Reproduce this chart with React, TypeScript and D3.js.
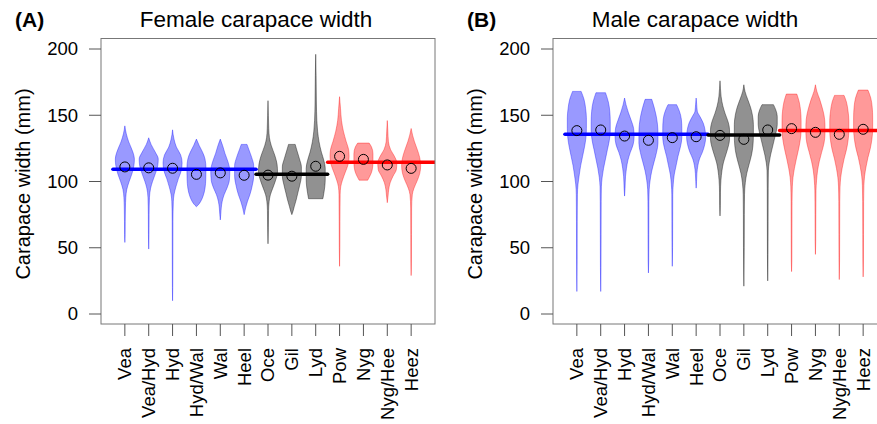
import * as d3 from 'd3'

// Population labels along the x axis
const SITES = ['Vea', 'Vea/Hyd', 'Hyd', 'Hyd/Wal', 'Wal', 'Heel', 'Oce', 'Gil', 'Lyd', 'Pow', 'Nyg', 'Nyg/Hee', 'Heez']
// Region group of each site (0 = blue, 1 = grey, 2 = red)
const SITE_GROUP = [0, 0, 0, 0, 0, 0, 1, 1, 1, 2, 2, 2, 2]
const Y_TICKS = [0, 50, 100, 150, 200]

// Violin outlines: [carapace width (mm), relative half width]
const FEMALE_PROFILES: [number, number][][] = [
  [[142, 0], [136, 0.15], [130, 0.4], [122, 0.85], [117, 1], [112, 0.95], [106, 0.75], [100, 0.45], [94, 0.2], [88, 0.1], [80, 0.06], [70, 0.04], [60, 0.03], [54, 0]],
  [[133, 0], [128, 0.25], [122, 0.7], [117, 1], [112, 0.95], [106, 0.7], [100, 0.4], [95, 0.2], [88, 0.08], [75, 0.04], [60, 0.03], [49, 0]],
  [[139, 0], [132, 0.15], [126, 0.4], [120, 0.85], [114, 1], [108, 0.9], [102, 0.6], [96, 0.35], [90, 0.15], [85, 0.08], [70, 0.04], [40, 0.03], [20, 0.02], [10, 0]],
  [[132, 0], [127, 0.3], [122, 0.65], [117, 0.9], [110, 1], [102, 0.98], [95, 0.9], [89, 0.7], [85, 0.45], [82, 0.15], [81, 0]],
  [[132, 0], [127, 0.25], [121, 0.5], [115, 0.8], [108, 1], [101, 0.95], [95, 0.7], [90, 0.4], [85, 0.2], [80, 0.1], [75, 0.05], [71, 0]],
  [[128, 0.3], [124, 0.5], [118, 0.8], [112, 1], [104, 1], [97, 0.85], [90, 0.6], [85, 0.35], [80, 0.15], [75, 0]],
  [[161, 0], [150, 0.04], [140, 0.08], [133, 0.15], [127, 0.35], [120, 0.7], [113, 0.95], [107, 1], [101, 0.8], [95, 0.5], [90, 0.25], [85, 0.12], [78, 0.06], [65, 0.04], [53, 0]],
  [[128, 0.35], [123, 0.55], [117, 0.8], [111, 1], [104, 1], [98, 0.85], [92, 0.65], [86, 0.45], [81, 0.25], [77, 0.1], [75, 0]],
  [[196, 0], [180, 0.04], [160, 0.07], [146, 0.12], [138, 0.2], [130, 0.35], [122, 0.6], [116, 0.85], [110, 1], [102, 1], [96, 0.95], [91, 0.85], [87, 0.75]],
  [[164, 0], [155, 0.1], [146, 0.2], [138, 0.4], [130, 0.7], [124, 0.95], [119, 1], [113, 0.9], [107, 0.6], [101, 0.3], [96, 0.12], [90, 0.06], [70, 0.04], [50, 0.03], [36, 0]],
  [[129, 0.6], [126, 0.85], [121, 1], [115, 1], [110, 0.95], [106, 0.8], [103, 0.6], [101, 0.45]],
  [[146, 0], [138, 0.06], [130, 0.12], [124, 0.35], [119, 0.75], [114, 1], [109, 0.95], [104, 0.6], [99, 0.3], [94, 0.15], [89, 0.08], [84, 0]],
  [[140, 0], [135, 0.15], [130, 0.35], [124, 0.65], [118, 0.9], [112, 1], [106, 0.9], [100, 0.6], [95, 0.3], [90, 0.12], [80, 0.05], [60, 0.04], [40, 0.03], [29, 0]],
]
const FEMALE_MEDIANS = [111, 110.3, 110, 105.4, 106.5, 104.7, 104.8, 104, 111.5, 119, 116.7, 112.5, 109.9]
const FEMALE_GROUP_MEANS = [109.2, 105.4, 114.5]

const MALE_PROFILES: [number, number][][] = [
  [[168, 0.45], [162, 0.75], [155, 0.92], [148, 1], [140, 1], [133, 0.95], [126, 0.8], [119, 0.6], [112, 0.4], [105, 0.25], [98, 0.12], [90, 0.06], [70, 0.04], [40, 0.03], [17, 0]],
  [[167, 0.5], [160, 0.8], [153, 0.95], [145, 1], [138, 1], [131, 0.9], [124, 0.7], [117, 0.5], [110, 0.3], [103, 0.15], [96, 0.07], [85, 0.05], [60, 0.04], [35, 0.03], [17, 0]],
  [[163, 0], [158, 0.15], [152, 0.4], [146, 0.7], [140, 0.95], [134, 1], [128, 0.9], [122, 0.6], [116, 0.35], [110, 0.2], [104, 0.1], [95, 0.05], [89, 0]],
  [[162, 0.35], [156, 0.6], [150, 0.8], [143, 0.95], [136, 1], [129, 1], [122, 0.85], [115, 0.6], [108, 0.35], [101, 0.18], [94, 0.08], [85, 0.05], [60, 0.04], [40, 0.03], [31, 0]],
  [[158, 0.45], [153, 0.75], [147, 0.95], [140, 1], [133, 1], [126, 0.85], [119, 0.6], [112, 0.4], [105, 0.2], [98, 0.1], [90, 0.05], [70, 0.04], [50, 0.03], [36, 0]],
  [[163, 0], [158, 0.06], [153, 0.12], [149, 0.4], [144, 0.75], [138, 0.95], [133, 1], [128, 0.9], [122, 0.65], [117, 0.35], [112, 0.18], [106, 0.08], [100, 0.04], [95, 0]],
  [[176, 0], [170, 0.05], [164, 0.12], [157, 0.3], [151, 0.55], [145, 0.85], [139, 1], [132, 1], [126, 0.85], [120, 0.6], [114, 0.35], [108, 0.2], [101, 0.1], [92, 0.05], [82, 0.04], [74, 0]],
  [[173, 0], [168, 0.12], [162, 0.4], [156, 0.7], [150, 0.9], [143, 1], [135, 1], [127, 0.95], [120, 0.8], [113, 0.55], [106, 0.3], [99, 0.15], [90, 0.07], [75, 0.05], [50, 0.04], [21, 0]],
  [[158, 0.6], [154, 0.85], [149, 1], [143, 1], [138, 0.9], [132, 0.7], [126, 0.5], [120, 0.3], [114, 0.15], [108, 0.07], [95, 0.05], [70, 0.04], [45, 0.03], [25, 0]],
  [[166, 0.55], [160, 0.8], [153, 0.95], [146, 1], [138, 1], [131, 0.9], [124, 0.72], [117, 0.5], [110, 0.3], [103, 0.15], [96, 0.08], [85, 0.05], [60, 0.04], [40, 0.03], [32, 0]],
  [[173, 0], [168, 0.15], [162, 0.45], [156, 0.7], [150, 0.9], [143, 1], [136, 1], [129, 0.9], [122, 0.65], [115, 0.4], [108, 0.22], [101, 0.12], [93, 0.06], [75, 0.04], [55, 0.03], [45, 0]],
  [[165, 0.5], [160, 0.75], [153, 0.92], [146, 1], [138, 1], [131, 0.92], [124, 0.75], [117, 0.5], [110, 0.3], [103, 0.15], [96, 0.08], [85, 0.05], [60, 0.04], [40, 0.03], [26, 0]],
  [[169, 0.5], [163, 0.8], [156, 0.95], [148, 1], [140, 1], [132, 0.92], [125, 0.75], [118, 0.5], [111, 0.3], [104, 0.15], [97, 0.08], [85, 0.05], [60, 0.04], [40, 0.03], [28, 0]],
]
const MALE_MEDIANS = [138.4, 138.9, 134.3, 131.1, 133.1, 133.8, 134.8, 131.8, 138.9, 139.9, 137.1, 135.6, 139.4]
const MALE_GROUP_MEANS = [135.6, 135.1, 138.4]

const FILLS = ['rgba(0,0,255,0.4)', 'rgba(0,0,0,0.43)', 'rgba(255,0,0,0.4)']
const LINE_COLORS = ['#0000ff', '#000000', '#ff0000']

const FONT = "'Liberation Sans', Arial, Helvetica, sans-serif"

function Panel({ id, left, tag, title, titleX, profiles, medians, groupMeans }: any) {
  const x = d3.scaleLinear().domain([0, 14]).range([left, left + 334])
  const y = d3.scaleLinear().domain([0, 200]).range([314, 49])
  const top = 38.5
  const bottom = 324
  const halfW = (x(1) - x(0)) * 0.4

  const groups = d3.range(3).map(g => {
    const idx = SITE_GROUP.map((s, i) => (s === g ? i + 1 : -1)).filter(i => i > 0)
    const start = d3.min(idx)! - 0.5
    const end = g === 2 ? 14.2 : d3.max(idx)! + 0.5
    return { g, start, end, mean: groupMeans[g] }
  })

  return (
    <g>
      <defs>
        <clipPath id={`clip-${id}`}>
          <rect x={x(0)} y={top} width={x(14) - x(0)} height={bottom - top} />
        </clipPath>
      </defs>

      <text x={titleX} y={27} textAnchor="middle" fontSize={22.5} fill="#000">{title}</text>
      <text x={left - 86} y={27} fontSize={21} fontWeight="bold" fill="#000">{tag}</text>

      <g clipPath={`url(#clip-${id})`}>
        {profiles.map((prof: [number, number][], i: number) => {
          const cx = x(i + 1)
          const area = d3.area<[number, number]>()
            .y(d => y(d[0]))
            .x0(d => cx - d[1] * halfW)
            .x1(d => cx + d[1] * halfW)
            .curve(d3.curveMonotoneY)
          const col = FILLS[SITE_GROUP[i]]
          return <path key={i} d={area(prof) || ''} fill={col} stroke={col} strokeWidth={0.9} />
        })}
        {groups.map(gr => (
          <line key={gr.g} x1={x(gr.start)} x2={x(gr.end)} y1={y(gr.mean)} y2={y(gr.mean)}
            stroke={LINE_COLORS[gr.g]} strokeWidth={3.5} strokeLinecap="round" />
        ))}
        {medians.map((m: number, i: number) => (
          <circle key={i} cx={x(i + 1)} cy={y(m)} r={5} fill="none" stroke="#000" strokeWidth={1} />
        ))}
      </g>

      <rect x={x(0)} y={top} width={x(14) - x(0)} height={bottom - top} fill="none" stroke="#777" strokeWidth={1} />

      {Y_TICKS.map(t => (
        <g key={t}>
          <line x1={x(0) - 12} x2={x(0)} y1={y(t)} y2={y(t)} stroke="#555" strokeWidth={1} />
          <text x={x(0) - 23} y={y(t)} dy="0.35em" textAnchor="end" fontSize={18.5} fill="#000">{t}</text>
        </g>
      ))}

      {SITES.map((s, i) => (
        <g key={s}>
          <line x1={x(i + 1)} x2={x(i + 1)} y1={bottom} y2={bottom + 12} stroke="#555" strokeWidth={1} />
          <text transform={`translate(${x(i + 1)},348) rotate(-90)`} dy="0.35em" textAnchor="end" fontSize={18.5} fill="#000">{s}</text>
        </g>
      ))}

      <text transform={`translate(${left - 78},184) rotate(-90)`} dy="0.35em" textAnchor="middle" fontSize={20} fill="#000">
        Carapace width (mm)
      </text>
    </g>
  )
}

export default function App() {
  return (
    <svg width={877} height={424} style={{ position: 'absolute', left: 0, top: 0, background: '#fff' }} fontFamily={FONT}>
      <rect width={877} height={424} fill="#fff" />
      <Panel id="a" left={101} tag="(A)" title="Female carapace width" titleX={256}
        profiles={FEMALE_PROFILES} medians={FEMALE_MEDIANS} groupMeans={FEMALE_GROUP_MEANS} />
      <Panel id="b" left={553} tag="(B)" title="Male carapace width" titleX={695}
        profiles={MALE_PROFILES} medians={MALE_MEDIANS} groupMeans={MALE_GROUP_MEANS} />
    </svg>
  )
}
